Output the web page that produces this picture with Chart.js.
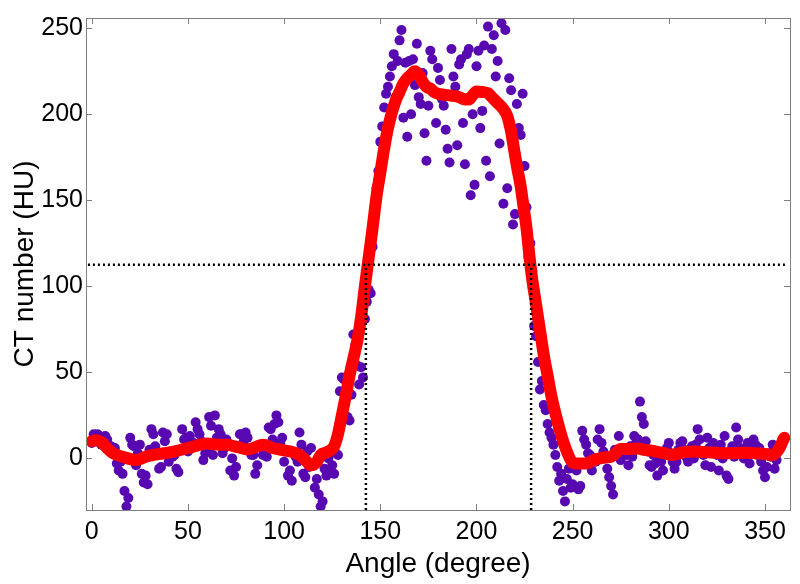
<!DOCTYPE html>
<html>
<head>
<meta charset="utf-8">
<script src="https://cdn.jsdelivr.net/npm/chart.js@4.4.0/dist/chart.umd.min.js"></script>
<style>
  html, body { margin: 0; padding: 0; background: #fff; }
  #wrap { width: 800px; height: 584px; }
</style>
</head>
<body>
<div id="wrap"><canvas id="ctChart" width="800" height="584"></canvas></div>
<script>
// measured CT number, one sample per degree (0..359)
const ctValues = [
  9, 14, 12, 14, 13, 8, 10, 13, 11, 6,
  7, 3, 6, -3, -7, -2, -9, -19, -28, -23,
  12, 8, 7, -4, 3, 8, -9, -14, -10, -15,
  5, 17, 14, 7, 3, -6, -5, 15, 10, 14,
  -2, 4, 1, 2, -6, -8, 5, 17, 11, 12,
  4, 13, 6, 9, 21, 17, 14, 10, -1, 3,
  5, 24, 19, 2, 25, 12, 17, 14, 3, 6,
  11, 8, -7, 0, -10, -5, 7, 14, 14, 10,
  15, 12, 5, 2, 2, -9, -4, 8, 6, 2,
  6, 1, 18, 17, 11, 20, 25, 21, 9, 12,
  -2, 4, -10, -7, -13, 3, 1, -2, 15, 8,
  -9, -11, 4, -5, 6, -3, -17, -12, -21, -28,
  -25, -6, -10, 0, -7, -4, -9, 3, 2, 39,
  47, 46, 35, 24, 22, 37, 72, 66, 54, 43,
  53, 47, 81, 91, 98, 96, 123, 142, 157, 167,
  184, 193, 204, 212, 216, 222, 228, 235, 210, 231,
  243, 249, 198, 230, 187, 231, 200, 232, 217, 241,
  210, 206, 224, 189, 173, 205, 237, 232, 213, 195,
  227, 220, 209, 205, 191, 180, 172, 238, 222, 216,
  182, 229, 232, 195, 171, 235, 238, 153, 200, 159,
  228, 237, 192, 202, 240, 173, 251, 164, 238, 246,
  222, 231, 183, 253, 148, 249, 157, 221, 214, 136,
  142, 206, 192, 188, 212, 170, 146, 117, 125, 109,
  77, 71, 56, 40, 45, 31, 28, 20, 15, 12,
  8, 2, -5, -13, -9, -19, -25, -12, -6, -17,
  -15, -3, -7, -18, -16, 16, 11, 8, 3, 2,
  -7, 0, -2, 11, 17, 9, 4, 1, -6, -11,
  -16, -21, 5, 3, 13, -1, 6, 4, 2, -4,
  7, 1, 13, 9, 11, 33, 24, 20, 10, 4,
  -4, -5, 2, -3, -10, 0, -2, -7, 4, 6,
  9, 3, -2, -6, -2, 5, 9, 10, 5, 1,
  -2, 3, 7, 0, 8, 17, 11, 4, 2, -4,
  12, 6, -5, 9, 3, 2, -7, 8, 0, 13,
  -10, -12, 4, 7, 1, 18, 11, 6, 3, 0,
  5, 9, -3, 4, 11, 8, 2, 6, -2, -7,
  -11, -5, 3, 1, 8, -6, -1, 5, 7, 11
];

// smoothed profile (red curve)
const smoothAngles = [
  0, 2, 5, 8, 11, 16, 23, 28, 32, 42, 52, 60, 66, 70, 76, 81, 85, 89, 94, 100,
  105, 108, 111, 114, 117, 119, 122, 126, 128, 130, 132, 134, 136, 138, 140,
  142, 144, 146, 148, 150, 152, 154, 156, 158, 160, 162, 164, 166, 168, 170,
  172, 174, 176, 178, 180, 183, 186, 190, 193, 196, 198, 200, 203, 206, 208,
  211, 214, 216, 218, 219.5, 221, 223, 224.5, 226, 227.5, 229, 230.5, 232, 233.5,
  235, 237, 239, 242, 244.5, 247, 250, 253, 256, 258, 261, 264, 267, 270, 272,
  275, 279, 284, 287, 291, 294, 298, 301, 304, 307, 314, 320, 330, 340, 345,
  350, 354, 356, 358, 360
];
const smoothValues = [
  10, 10.5, 9.5, 6, 3, 1, -1, 1, 2, 3.8, 6.6, 8.6, 8, 8, 6.5, 5.2, 6.5, 8, 6, 4.7,
  3.5, 2, -1, -4, -2, 2, 3.5, 7, 14, 25, 36, 48, 58, 68, 82,
  100, 117, 134, 152, 166, 180, 192, 201, 208, 213, 218, 221, 223, 225, 223,
  219, 216, 215, 213, 212, 211.4, 211, 210.4, 209, 208.6, 211, 213.3, 213, 212.3, 210,
  206.6, 203, 199, 190, 180, 170, 158, 146, 134, 118, 104, 93, 82, 71,
  60, 48, 36, 22, 12, 4, -2.5, -3, -3, -2.5, -1, 0, 0.5, 1, 2.5,
  5.5, 5.5, 5.7, 5, 4.5, 3.8, 3, 2, 2.5, 3.5, 4, 3.5, 3, 3.3, 3,
  2.5, 2, 3.5, 7, 12
];

const threshold = 112.5;
const edgeAngles = [142.5, 228.4];
const xTicks = [0, 50, 100, 150, 200, 250, 300, 350];
const yTicks = [0, 50, 100, 150, 200, 250];

const fontFamily = "'Liberation Sans', Arial, sans-serif";

// MATLAB-like box with inward tick marks
const boxTicks = {
  id: 'boxTicks',
  afterDraw(chart) {
    const { ctx, chartArea: a, scales } = chart;
    ctx.save();
    ctx.strokeStyle = '#808080';
    ctx.lineWidth = 1;
    ctx.strokeRect(Math.round(a.left) + 0.5, Math.round(a.top) + 0.5,
      Math.round(a.right - a.left), Math.round(a.bottom - a.top));
    ctx.beginPath();
    xTicks.forEach(v => {
      const px = Math.round(scales.x.getPixelForValue(v)) + 0.5;
      ctx.moveTo(px, a.bottom); ctx.lineTo(px, a.bottom - 6);
      ctx.moveTo(px, a.top); ctx.lineTo(px, a.top + 6);
    });
    yTicks.forEach(v => {
      const py = Math.round(scales.y.getPixelForValue(v)) + 0.5;
      ctx.moveTo(a.left, py); ctx.lineTo(a.left + 6, py);
      ctx.moveTo(a.right, py); ctx.lineTo(a.right - 6, py);
    });
    ctx.stroke();
    ctx.restore();
  }
};

const dotted = {
  type: 'line',
  borderColor: '#000',
  borderWidth: 2.5,
  borderDash: [2, 3],
  pointRadius: 0,
  fill: false,
  clip: 0,
  order: 0
};

const datasets = [
  {
    type: 'scatter',
    label: 'CT number',
    data: ctValues.map((v, i) => ({ x: i, y: v })),
    backgroundColor: 'rgb(88,8,176)',
    borderWidth: 0,
    pointRadius: 5,
    clip: 0,
    order: 2
  },
  {
    type: 'line',
    label: 'Smoothed',
    data: smoothAngles.map((a, i) => ({ x: a, y: smoothValues[i] })),
    borderColor: 'rgb(255,0,0)',
    borderWidth: 12,
    borderCapStyle: 'round',
    borderJoinStyle: 'round',
    pointRadius: 0,
    tension: 0.4,
    cubicInterpolationMode: 'monotone',
    fill: false,
    clip: 0,
    order: 1
  },
  Object.assign({ label: 'threshold', data: [{ x: -2, y: threshold }, { x: 361, y: threshold }] }, dotted),
  Object.assign({ label: 'edge1', data: [{ x: edgeAngles[0], y: -30 }, { x: edgeAngles[0], y: threshold }] }, dotted),
  Object.assign({ label: 'edge2', data: [{ x: edgeAngles[1], y: -30 }, { x: edgeAngles[1], y: threshold }] }, dotted)
];

new Chart(document.getElementById('ctChart'), {
  type: 'scatter',
  data: { datasets },
  plugins: [boxTicks],
  options: {
    responsive: false,
    animation: false,
    devicePixelRatio: 1,
    layout: { padding: { top: 10, right: 10, left: 0, bottom: 0 } },
    plugins: {
      legend: { display: false },
      tooltip: { enabled: false }
    },
    scales: {
      x: {
        type: 'linear',
        min: -3,
        max: 363,
        afterBuildTicks: axis => { axis.ticks = xTicks.map(v => ({ value: v })); },
        afterFit: axis => { axis.height = 74; },
        grid: { display: false, drawTicks: false },
        border: { display: false },
        ticks: {
          color: '#000',
          font: { family: fontFamily, size: 25 },
          padding: 7,
          maxRotation: 0,
          autoSkip: false
        },
        title: {
          display: true,
          text: 'Angle (degree)',
          color: '#000',
          font: { family: fontFamily, size: 28 },
          padding: { top: 0, bottom: 3 }
        }
      },
      y: {
        type: 'linear',
        min: -30,
        max: 256,
        afterBuildTicks: axis => { axis.ticks = yTicks.map(v => ({ value: v })); },
        afterFit: axis => { axis.width = 86; },
        grid: { display: false, drawTicks: false },
        border: { display: false },
        ticks: {
          color: '#000',
          font: { family: fontFamily, size: 25 },
          padding: 3,
          autoSkip: false
        },
        title: {
          display: true,
          text: 'CT number (HU)',
          color: '#000',
          font: { family: fontFamily, size: 28 },
          padding: { top: 8, bottom: 0 }
        }
      }
    }
  }
});
</script>
</body>
</html>
